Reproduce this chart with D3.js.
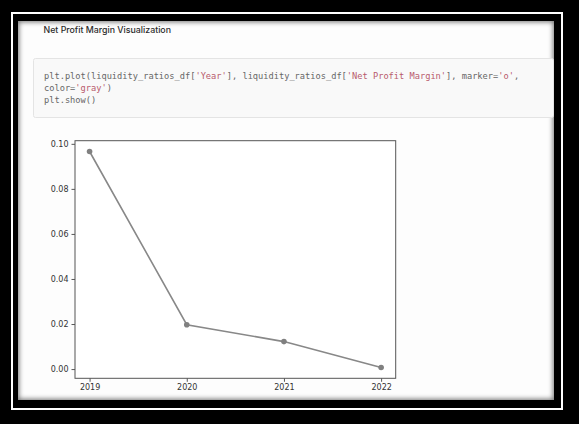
<!DOCTYPE html>
<html>
<head>
<meta charset="utf-8">
<script src="https://cdn.jsdelivr.net/npm/d3@7"></script>
<style>
  html, body { margin: 0; padding: 0; background: #000; }
  #page { position: relative; width: 579px; height: 424px; overflow: hidden; background: #000; }
  #rule { position: absolute; left: 11px; top: 12px; width: 548px; height: 394px; border: 2px solid #fff; }
  #sheet { position: absolute; left: 18px; top: 21px; width: 536px; height: 379px; background: #fdfdfd;
           box-shadow: inset 0 0 5px 1px rgba(0,0,0,0.55); }
  svg { position: absolute; left: 0; top: 0; }
</style>
</head>
<body>
<div id="page">
  <div id="rule"></div>
  <div id="sheet"></div>
</div>
<script>
const years = [2019, 2020, 2021, 2022];
const netProfitMargin = [0.0966, 0.0197, 0.0122, 0.0007];
const yTicks = [0.00, 0.02, 0.04, 0.06, 0.08, 0.10];

const titleText = "Net Profit Margin Visualization";
// code cell, split into plain / string tokens
const codeLines = [
  [["plt.plot(liquidity_ratios_df[", "c"], ["'Year'", "s"], ["], liquidity_ratios_df[", "c"],
   ["'Net Profit Margin'", "s"], ["], marker=", "c"], ["'o'", "s"], [",", "c"]],
  [["color=", "c"], ["'gray'", "s"], [")", "c"]],
  [["plt.show()", "c"]]
];

const svg = d3.select("#page").append("svg")
  .attr("width", 579)
  .attr("height", 424);

// title
svg.append("text")
  .attr("x", 43.5)
  .attr("y", 33)
  .attr("font-family", "Inter, 'Noto Sans', sans-serif")
  .attr("font-size", 8.8)
  .attr("font-weight", 500)
  .attr("fill", "#2b2b2b")
  .text(titleText);

// code cell
svg.append("rect")
  .attr("x", 33.5).attr("y", 58.5)
  .attr("width", 520).attr("height", 59)
  .attr("rx", 2)
  .attr("fill", "#f9f9f9")
  .attr("stroke", "#e4e4e4");

const code = svg.append("g")
  .attr("font-family", "'DejaVu Sans Mono', monospace")
  .attr("font-size", 8.68);

codeLines.forEach((line, i) => {
  const t = code.append("text")
    .attr("x", 44)
    .attr("y", 78.5 + i * 12)
    .attr("xml:space", "preserve");
  line.forEach(([txt, kind]) => {
    t.append("tspan")
      .attr("fill", kind === "s" ? "#b85a6c" : "#666")
      .text(txt);
  });
});

// chart
const margin = { left: 75, top: 140.7, right: 395.7, bottom: 378.3 };

const x = d3.scaleLinear()
  .domain([years[0] - 0.15, years[years.length - 1] + 0.15])
  .range([margin.left, margin.right]);

const ext = d3.extent(netProfitMargin);
const pad = (ext[1] - ext[0]) * 0.05;
const y = d3.scaleLinear()
  .domain([ext[0] - pad, ext[1] + pad])
  .range([margin.bottom, margin.top]);

const chart = svg.append("g");

chart.append("rect")
  .attr("x", margin.left).attr("y", margin.top)
  .attr("width", margin.right - margin.left)
  .attr("height", margin.bottom - margin.top)
  .attr("fill", "#fff");

const xAxis = chart.append("g")
  .attr("transform", `translate(0,${margin.bottom})`)
  .call(d3.axisBottom(x).tickValues(years).tickFormat(d3.format("d")).tickSize(3.5).tickPadding(3));

const yAxis = chart.append("g")
  .attr("transform", `translate(${margin.left},0)`)
  .call(d3.axisLeft(y).tickValues(yTicks).tickFormat(d3.format(".2f")).tickSize(3.5).tickPadding(3));

[xAxis, yAxis].forEach(ax => {
  ax.select(".domain").remove();
  ax.selectAll("line").attr("stroke", "#444").attr("stroke-width", 0.9);
  ax.selectAll("text")
    .attr("font-family", "'DejaVu Sans', sans-serif")
    .attr("font-size", 8)
    .attr("fill", "#333");
});

// spines
chart.append("rect")
  .attr("x", margin.left).attr("y", margin.top)
  .attr("width", margin.right - margin.left)
  .attr("height", margin.bottom - margin.top)
  .attr("fill", "none")
  .attr("stroke", "#555")
  .attr("stroke-width", 1);

const points = years.map((yr, i) => ({ year: yr, value: netProfitMargin[i] }));

chart.append("path")
  .datum(points)
  .attr("fill", "none")
  .attr("stroke", "#888")
  .attr("stroke-width", 1.6)
  .attr("d", d3.line().x(d => x(d.year)).y(d => y(d.value)));

chart.selectAll("circle.pt")
  .data(points)
  .join("circle")
  .attr("class", "pt")
  .attr("cx", d => x(d.year))
  .attr("cy", d => y(d.value))
  .attr("r", 2.8)
  .attr("fill", "#808080");
</script>
</body>
</html>
